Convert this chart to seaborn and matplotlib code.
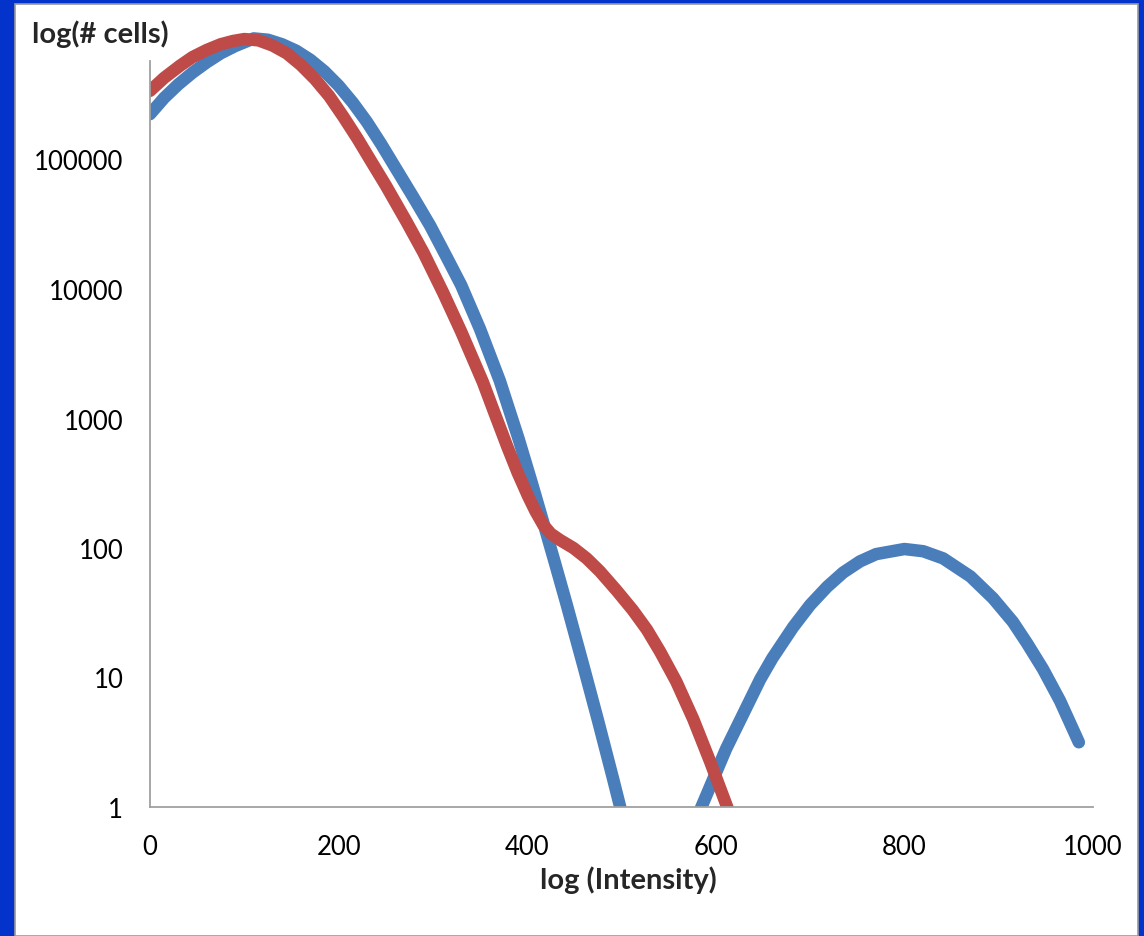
import pandas as pd
import seaborn as sns
import matplotlib.pyplot as plt
from matplotlib.patches import Rectangle

# values (cells on a log axis)
blue_x = [0, 15, 30, 45, 60, 75, 90, 110, 125, 140, 155, 170, 185, 200, 215, 230, 245, 260,
          280, 297, 315, 330, 350, 371, 391, 405, 417, 430, 442, 460, 475, 491, 510,
          570, 586, 611, 647, 660, 682, 700, 718, 735, 753, 770, 800, 820, 841, 870, 894,
          915, 930, 947, 965, 985]
blue_cells = [224000, 299000, 380000, 468000, 562000, 661000, 750000, 861000, 841000, 776000,
              692000, 589000, 479000, 372000, 275000, 195000, 132000, 87100,
              50100, 30900, 17400, 10700, 4900, 1950, 692, 316, 158, 74.1, 36.3, 12.0, 4.68,
              1.66, 0.468,
              0.56, 1.05, 2.82, 9.66, 14.1, 24.5, 36.3, 50.1, 64.6, 78.9, 89.7, 98.2, 94.4,
              83.2, 60.3, 40.9, 26.9, 18.4, 11.6, 6.61, 3.16]

red_x = [0, 15, 32, 45, 60, 75, 88, 100, 115, 130, 145, 160, 175, 190, 205, 220, 235, 250,
         272, 290, 311, 330, 353, 366, 379, 390, 401, 409, 417, 425, 435, 449, 463, 477,
         495, 512, 527, 541, 558, 576, 594, 611, 640]
red_cells = [339000, 427000, 531000, 617000, 700000, 776000, 822000, 851000, 832000, 759000,
             661000, 537000, 417000, 309000, 214000, 145000, 95500, 63100,
             33100, 19100, 9330, 4680, 1910, 1070, 603, 380, 251, 191, 151, 129, 115, 100,
             83.2, 66.1, 46.8, 33.1, 23.4, 15.8, 9.33, 4.79, 2.24, 1.05, 0.28]

x_ticks = [0, 200, 400, 600, 800, 1000]
y_ticks = [1, 10, 100, 1000, 10000, 100000]
y_tick_labels = ["1", "10", "100", "1000", "10000", "100000"]

sns.set_style("white")
plt.rcParams['font.family'] = ['Lato', 'DejaVu Sans']

df = pd.concat([
    pd.DataFrame({"intensity": blue_x, "cells": blue_cells, "series": "blue"}),
    pd.DataFrame({"intensity": red_x, "cells": red_cells, "series": "red"}),
], ignore_index=True)

W, H = 1144, 937
fig = plt.figure(figsize=(W / 100, H / 100), dpi=100, facecolor="#0433cc")
# white slide area inside the blue frame
fig.add_artist(Rectangle((15 / W, 0), (1138 - 15) / W, 1 - 5 / H, transform=fig.transFigure,
                         facecolor="white", edgecolor="#9a9a9a", linewidth=1.2, zorder=-1))

ax = fig.add_axes([150 / W, 1 - 808 / H, 943 / W, (808 - 31) / H])
ax.set_facecolor("none")
ax.set_yscale("log")

sns.lineplot(data=df, x="intensity", y="cells", hue="series", hue_order=["blue", "red"],
             palette={"blue": "#4a7ebb", "red": "#be4b48"}, linewidth=9, legend=False,
             estimator=None, sort=False, solid_capstyle="round", solid_joinstyle="round", ax=ax)

ax.set_xlim(0, 1000)
ax.set_ylim(1, 1e6)
ax.set_xticks(x_ticks)
ax.set_xticklabels([str(t) for t in x_ticks])
ax.set_yticks(y_ticks)
ax.set_yticklabels(y_tick_labels)
ax.minorticks_off()
ax.set_xlabel("")
ax.set_ylabel("")

for side in ["top", "right"]:
    ax.spines[side].set_visible(False)
for side in ["left", "bottom"]:
    ax.spines[side].set_color("#a0a0a0")
    ax.spines[side].set_linewidth(1.3)
ax.spines["left"].set_bounds(1, 10 ** 5.761)

ax.tick_params(axis="both", direction="out", length=7.2, width=1.3, color="#a0a0a0",
               labelsize=18.5, labelcolor="black")
ax.tick_params(axis="y", pad=12)
ax.tick_params(axis="x", pad=12)

fig.text(32 / W, 1 - 34 / H, "log(# cells)", fontweight="bold", fontsize=21, ha="left", va="center")
fig.text(628 / W, 1 - 880 / H, "log (Intensity)", fontweight="bold", fontsize=21, ha="center", va="center")

fig.savefig("out.png", dpi=100, facecolor=fig.get_facecolor())
